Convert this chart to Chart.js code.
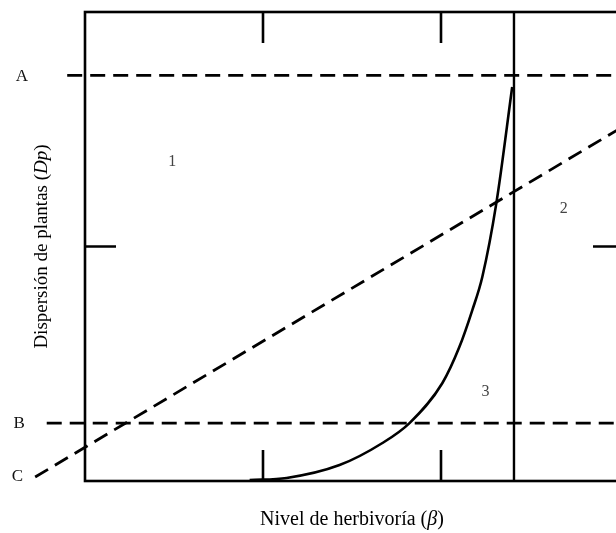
<!DOCTYPE html>
<html>
<head>
<meta charset="utf-8">
<script src="https://cdn.jsdelivr.net/npm/chart.js@4/dist/chart.umd.min.js"></script>
<style>
    body { margin: 0; background: #fff; }
    #wrap { width: 616px; height: 533px; overflow: hidden; }
</style>
</head>
<body>
<div id="wrap"><canvas id="herb-chart" width="626" height="533"></canvas></div>
<script>
// curva de herbivoria (linea continua)
var curveX = [0.925, 1.133, 1.43, 1.671, 1.823, 2.008, 2.103, 2.176, 2.232, 2.311, 2.40];
var curveY = [0.004, 0.013, 0.068, 0.162, 0.247, 0.418, 0.571, 0.729, 0.87, 1.185, 1.68];

// lineas punteadas A, B y la diagonal C
var lineA_x = [-0.1, 3.1];
var lineA_y = [1.73, 1.73];
var lineB_x = [-0.215, 3.1];
var lineB_y = [0.247, 0.247];
var lineC_x = [-0.28, 3.02];
var lineC_y = [0.017, 1.51];

// linea vertical
var vlineX = [2.41, 2.41];
var vlineY = [0, 2];

// marcas de los ejes
var xTicks = [1, 2];
var yTicks = [1];

// etiquetas de las lineas y regiones
var lineLabels = ['A', 'B', 'C'];
var lineLabelX = [-0.355, -0.37, -0.38];
var lineLabelY = [1.725, 0.247, 0.02];
var regionLabels = ['1', '2', '3'];
var regionX = [0.49, 2.69, 2.25];
var regionY = [1.36, 1.16, 0.38];

function toPoints(xs, ys) {
    return xs.map(function (x, i) { return { x: x, y: ys[i] }; });
}

function dashed(xs, ys) {
    return {
        data: toPoints(xs, ys),
        borderColor: '#000',
        borderWidth: 2.8,
        borderDash: [15, 8],
        pointRadius: 0,
        showLine: true,
        clip: false
    };
}

var SERIF = '"Liberation Serif", "DejaVu Serif", serif';

// marco, marcas, etiquetas y titulos
var framePlugin = {
    id: 'frame',
    afterDatasetsDraw: function (chart) {
        var ctx = chart.ctx;
        var a = chart.chartArea;
        var xs = chart.scales.x;
        var ys = chart.scales.y;
        ctx.save();
        ctx.strokeStyle = '#000';
        ctx.lineWidth = 2.6;
        ctx.strokeRect(a.left, a.top, a.right - a.left, a.bottom - a.top);

        xTicks.forEach(function (v) {
            var px = xs.getPixelForValue(v);
            ctx.beginPath();
            ctx.moveTo(px, a.top); ctx.lineTo(px, a.top + 31);
            ctx.moveTo(px, a.bottom); ctx.lineTo(px, a.bottom - 31);
            ctx.stroke();
        });
        yTicks.forEach(function (v) {
            var py = ys.getPixelForValue(v);
            ctx.beginPath();
            ctx.moveTo(a.left, py); ctx.lineTo(a.left + 31, py);
            ctx.moveTo(a.right, py); ctx.lineTo(a.right - 26, py);
            ctx.stroke();
        });

        ctx.fillStyle = '#111';
        ctx.textAlign = 'center';
        ctx.textBaseline = 'middle';
        ctx.font = '17px ' + SERIF;
        lineLabels.forEach(function (t, i) {
            ctx.fillText(t, xs.getPixelForValue(lineLabelX[i]), ys.getPixelForValue(lineLabelY[i]));
        });
        ctx.fillStyle = '#444';
        ctx.font = '16px ' + SERIF;
        regionLabels.forEach(function (t, i) {
            ctx.fillText(t, xs.getPixelForValue(regionX[i]), ys.getPixelForValue(regionY[i]));
        });

        // titulo eje x con beta en cursiva
        ctx.fillStyle = '#000';
        drawMixed(ctx, [['Nivel de herbivoría (', ''], ['β', 'italic '], [')', '']],
            (a.left + a.right) / 2, 520, 20);

        // titulo eje y, rotado
        ctx.save();
        ctx.translate(42, (a.top + a.bottom) / 2);
        ctx.rotate(-Math.PI / 2);
        drawMixed(ctx, [['Dispersión de plantas (', ''], ['Dp', 'italic '], [')', '']], 0, 0, 19);
        ctx.restore();
        ctx.restore();
    }
};

function drawMixed(ctx, parts, cx, cy, size) {
    var total = 0;
    parts.forEach(function (p) {
        ctx.font = p[1] + size + 'px ' + SERIF;
        total += ctx.measureText(p[0]).width;
    });
    var x = cx - total / 2;
    ctx.textAlign = 'left';
    ctx.textBaseline = 'middle';
    parts.forEach(function (p) {
        ctx.font = p[1] + size + 'px ' + SERIF;
        ctx.fillText(p[0], x, cy);
        x += ctx.measureText(p[0]).width;
    });
    ctx.textAlign = 'center';
}

new Chart('herb-chart', {
    type: 'scatter',
    data: {
        datasets: [
            {
                data: toPoints(curveX, curveY),
                borderColor: '#000',
                borderWidth: 2.6,
                pointRadius: 0,
                showLine: true,
                cubicInterpolationMode: 'monotone',
                clip: false
            },
            {
                data: toPoints(vlineX, vlineY),
                borderColor: '#000',
                borderWidth: 2.4,
                pointRadius: 0,
                showLine: true
            },
            dashed(lineA_x, lineA_y),
            dashed(lineB_x, lineB_y),
            dashed(lineC_x, lineC_y)
        ]
    },
    options: {
        responsive: false,
        animation: false,
        layout: { padding: { left: 85, top: 12, right: 7, bottom: 52 } },
        plugins: { legend: { display: false }, tooltip: { enabled: false } },
        scales: {
            x: {
                type: 'linear', min: 0, max: 3,
                ticks: { display: false },
                grid: { display: false, drawTicks: false },
                border: { display: false }
            },
            y: {
                type: 'linear', min: 0, max: 2,
                ticks: { display: false },
                grid: { display: false, drawTicks: false },
                border: { display: false }
            }
        }
    },
    plugins: [framePlugin]
});
</script>
</body>
</html>
